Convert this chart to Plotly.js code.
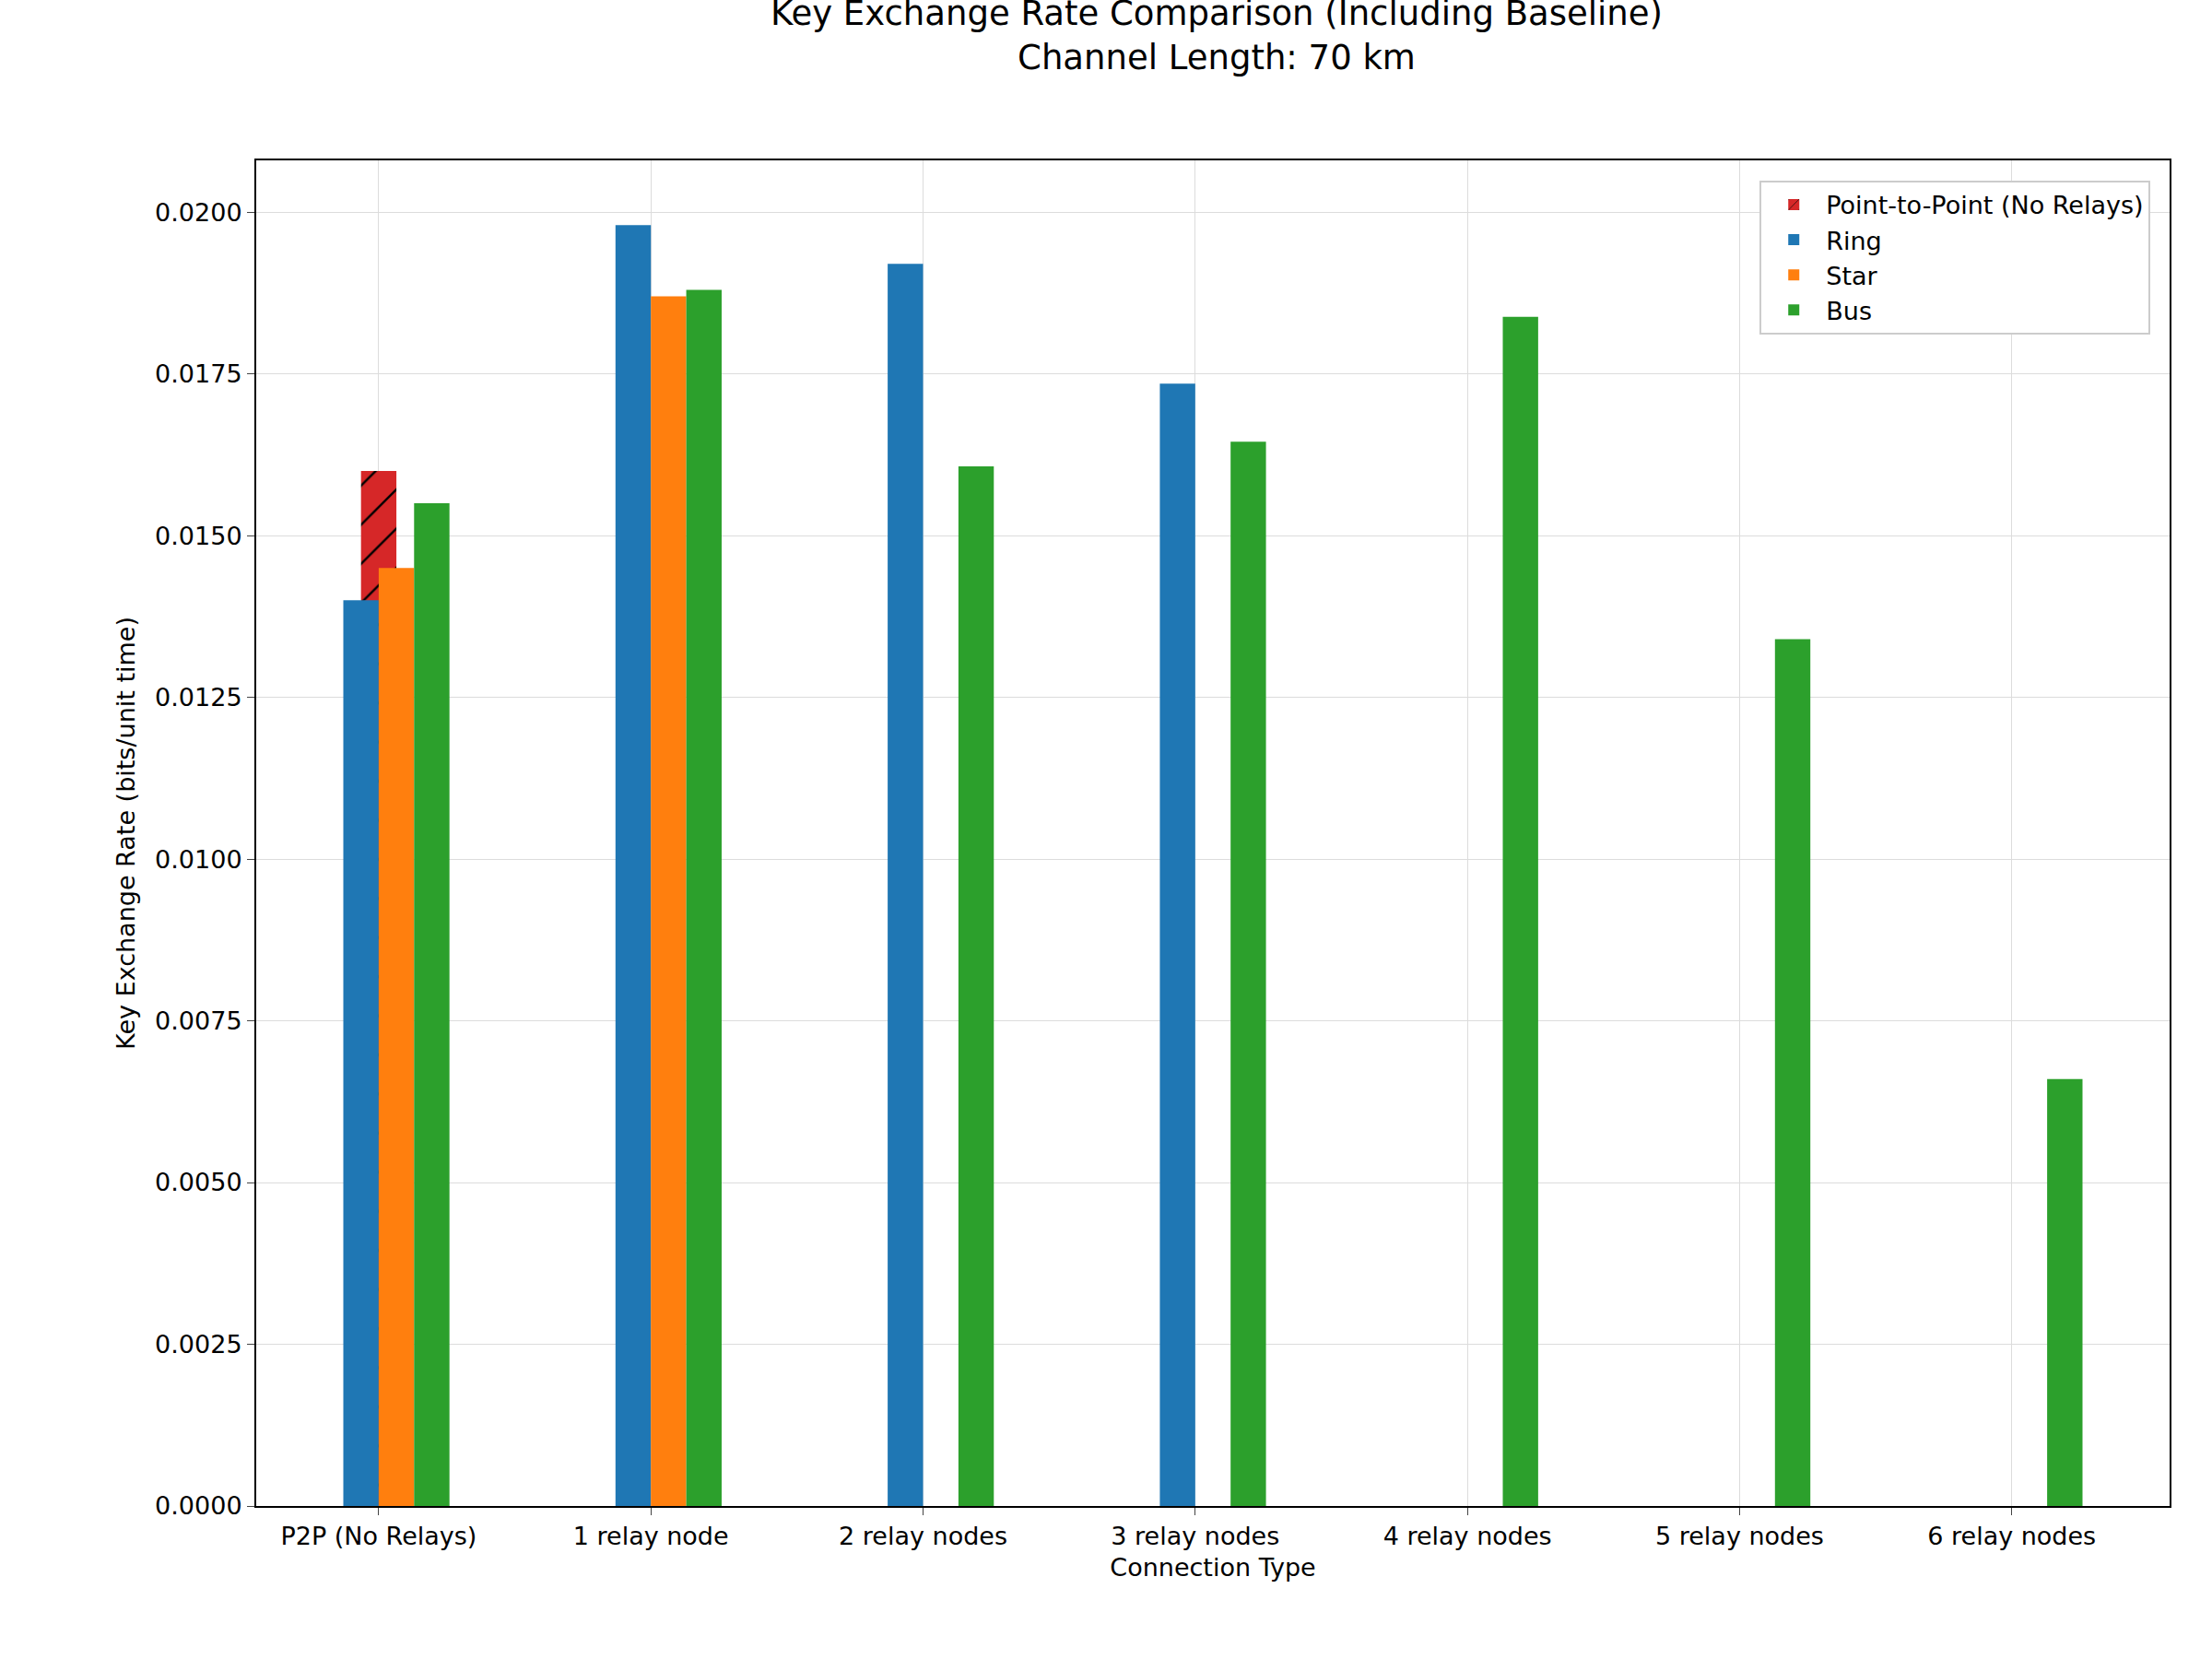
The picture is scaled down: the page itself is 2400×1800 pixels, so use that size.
<!DOCTYPE html>
<html><head><meta charset="utf-8">
<script src="https://cdn.plot.ly/plotly-3.0.1.min.js"></script>
<style>body{margin:0;background:#fff}#chart{width:2400px;height:1800px}</style>
</head><body><div id="chart"></div>
<script>
var categories = ['P2P (No Relays)', '1 relay node', '2 relay nodes', '3 relay nodes', '4 relay nodes', '5 relay nodes', '6 relay nodes'];
var baseline = [0.0160];
var ring = [0.0140, 0.0198, 0.0192, 0.01735, null, null, null];
var star = [0.0145, 0.0187, null, null, null, null, null];
var bus = [0.0155, 0.0188, 0.01607, 0.01645, 0.01838, 0.0134, 0.0066];

var w = 0.13;
function xs(arr, off) { return arr.map(function (v, i) { return i + off; }); }
var font = {family: 'DejaVu Sans, sans-serif', size: 27, color: '#000'};

var traces = [
  {type: 'bar', name: 'Point-to-Point (No Relays)', x: xs(baseline, 0), y: baseline, width: w,
   marker: {color: '#d62728', pattern: {shape: '/', fgcolor: '#000', bgcolor: '#d62728', size: 30, solidity: 0.08}}},
  {type: 'bar', name: 'Ring', x: xs(ring, -w / 2), y: ring, width: w, marker: {color: '#1f77b4'}},
  {type: 'bar', name: 'Star', x: xs(star, w / 2), y: star, width: w, marker: {color: '#ff7f0e'}},
  {type: 'bar', name: 'Bus', x: xs(bus, 1.5 * w), y: bus, width: w, marker: {color: '#2ca02c'}}
];

var layout = {
  width: 2400, height: 1800, font: font, barmode: 'overlay',
  paper_bgcolor: '#fff', plot_bgcolor: '#fff',
  margin: {l: 278, r: 46, t: 174, b: 166},
  title: {text: 'Key Exchange Rate Comparison (Including Baseline)<br>Channel Length: 70 km',
    font: {family: 'DejaVu Sans, sans-serif', size: 37}, x: 0.55, xanchor: 'center', y: 0.985, yanchor: 'top'},
  xaxis: {title: {text: 'Connection Type', font: font, standoff: 10},
    tickvals: categories.map(function (c, i) { return i; }), ticktext: categories,
    range: [-0.45, 6.58], showgrid: true, gridcolor: '#dcdcdc', zeroline: false,
    showline: true, mirror: true, linecolor: '#000', linewidth: 2, ticks: 'outside', ticklen: 8},
  yaxis: {title: {text: 'Key Exchange Rate (bits/unit time)', font: font, standoff: 14},
    range: [0, 0.0208], tickvals: [0, 0.0025, 0.005, 0.0075, 0.01, 0.0125, 0.015, 0.0175, 0.02],
    tickformat: '.4f', showgrid: true, gridcolor: '#dcdcdc', zeroline: false,
    showline: true, mirror: true, linecolor: '#000', linewidth: 2, ticks: 'outside', ticklen: 8},
  legend: {x: 0.99, y: 0.985, xanchor: 'right', yanchor: 'top', bgcolor: '#fff',
    bordercolor: '#ccc', borderwidth: 2, font: {family: 'DejaVu Sans, sans-serif', size: 27},
    tracegroupgap: 14, itemwidth: 60},
  showlegend: true
};

Plotly.newPlot('chart', traces, layout, {staticPlot: true});
</script></body></html>
